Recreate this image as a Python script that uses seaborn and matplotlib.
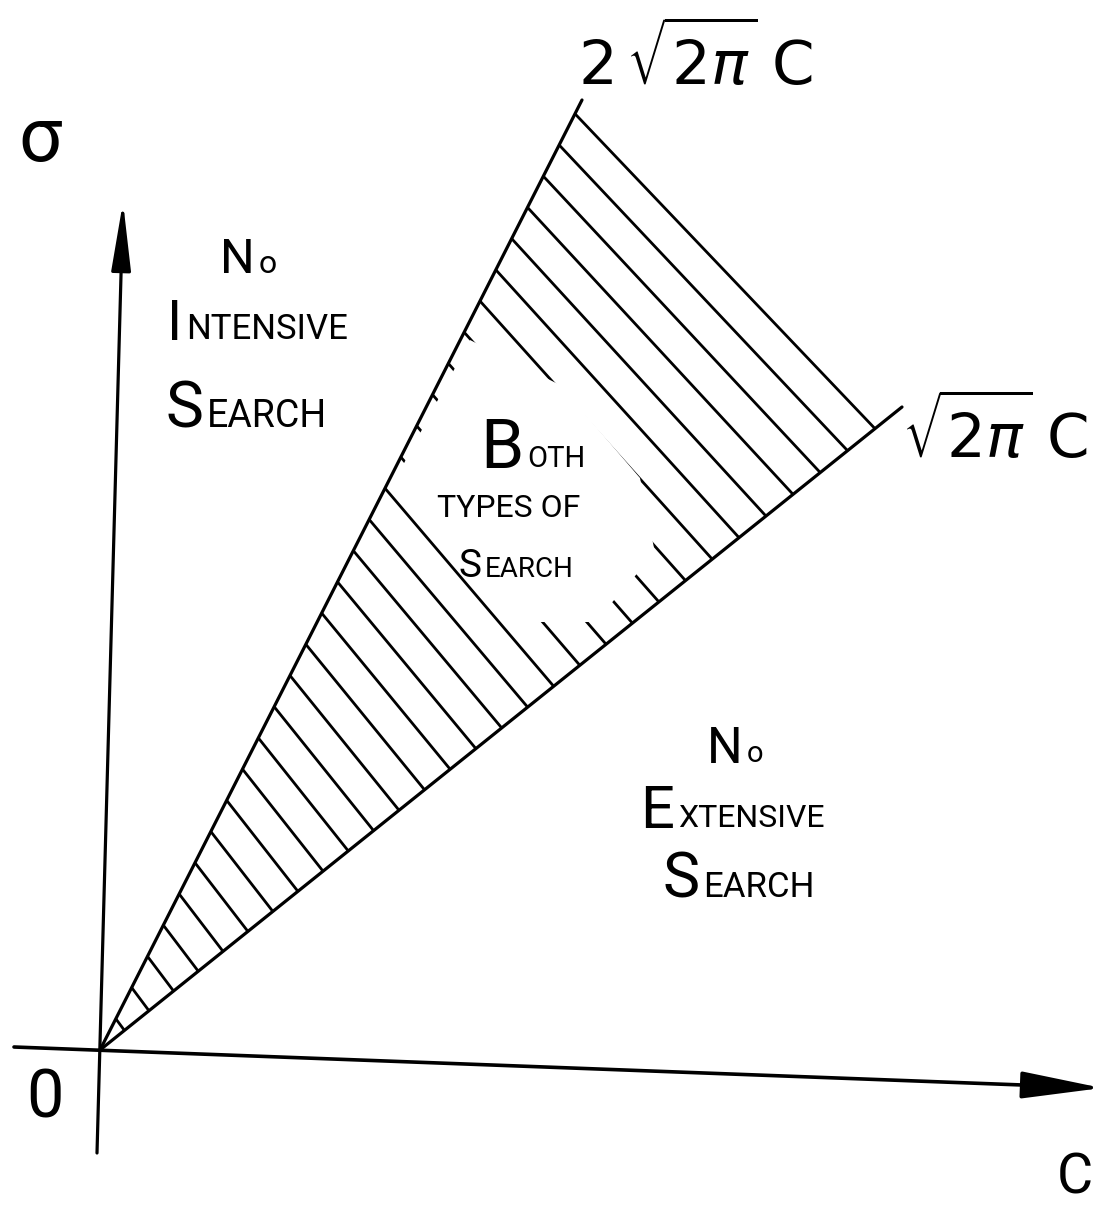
import numpy as np
import pandas as pd
import seaborn as sns
import matplotlib.pyplot as plt
from matplotlib.collections import LineCollection
from matplotlib.patches import Polygon

# boundary rays sigma = k * c, drawn out from the origin
ray_names = ['upper', 'lower']
ray_end_c = [4.82, 8.02]
ray_end_sigma = [9.50, 6.43]
ray_labels = [r'$2\,\sqrt{2\pi}\;\mathrm{C}$', r'$\sqrt{2\pi}\;\mathrm{C}$']

# hatched band: stops on the upper ray at band_top_c, closing line hits the lower ray at band_end_c
band_top_c = 4.75
band_end_c = 7.75
n_hatch = 30

# region captions, (big initial, small caps rest) per line
no_intensive = [('N', 'o'), ('I', 'NTENSIVE'), ('S', 'EARCH')]
both_types = [('B', 'OTH'), ('', 'TYPES OF'), ('S', 'EARCH')]
no_extensive = [('N', 'o'), ('E', 'XTENSIVE'), ('S', 'EARCH')]

axis_names = ['C', 'σ', '0']


def at(px, py):
    # canvas pixel -> data coords (origin sits at pixel 100, 1050)
    return px / 100 - 1.0, (1050 - py) / 100


sns.set_theme(style='white')
plt.rcParams['font.family'] = ['Roboto', 'DejaVu Sans']
plt.rcParams['text.color'] = 'black'
font = dict(fontweight='normal', color='black')

fig = plt.figure(figsize=(11.04, 12.09), dpi=100, facecolor='white')
ax = fig.add_axes([0, 0, 1, 1])
ax.set_xlim(-1.0, 10.04)
ax.set_ylim(-1.59, 10.50)
ax.axis('off')

# rays
rays = pd.DataFrame({'ray': np.repeat(ray_names, 2),
                     'c': [v for e in ray_end_c for v in (0.0, e)],
                     'sigma': [v for e in ray_end_sigma for v in (0.0, e)]})
sns.lineplot(data=rays, x='c', y='sigma', units='ray', estimator=None, sort=False,
             color='black', lw=2.3, legend=False, ax=ax, zorder=4)

# hatching between the rays
m_up = ray_end_sigma[0] / ray_end_c[0]
m_lo = ray_end_sigma[1] / ray_end_c[1]
far_slope = (m_up * band_top_c - m_lo * band_end_c) / (band_end_c - band_top_c)
starts = band_top_c * np.arange(1, n_hatch + 1) / n_hatch
slopes = np.linspace(1.35, far_slope, n_hatch)
ends = (m_up + slopes) * starts / (m_lo + slopes)
segs = [[(s, m_up * s), (e, m_lo * e)] for s, e in zip(starts, ends)]
ax.add_collection(LineCollection(segs, colors='black', linewidths=2.0, zorder=2))

# blank patch behind "both types of search"
clear = [at(395, 480), at(470, 340), at(560, 385), at(640, 478),
         at(655, 553), at(595, 622), at(510, 622)]
ax.add_patch(Polygon(clear, closed=True, facecolor='white', edgecolor='none', zorder=3))

# axes with arrows
ax.annotate('', xy=at(1102, 1088), xytext=at(14, 1047),
            arrowprops=dict(arrowstyle='-|>,head_length=2.5,head_width=0.42', lw=2.6,
                            color='black', shrinkA=0, shrinkB=0, mutation_scale=20), zorder=4)
ax.annotate('', xy=at(123, 202), xytext=at(97, 1153),
            arrowprops=dict(arrowstyle='-|>,head_length=2.1,head_width=0.3', lw=2.3,
                            color='black', shrinkA=0, shrinkB=0, mutation_scale=20), zorder=4)


def caption(lines, spots, sizes):
    for (first, rest), (px, py), (big, small) in zip(lines, spots, sizes):
        x, y = at(px, py)
        if not first:
            ax.text(x, y, rest, fontsize=small, ha='left', va='baseline', zorder=5, **font)
            continue
        t = ax.text(x, y, first, fontsize=big, ha='left', va='baseline', zorder=5, **font)
        ax.annotate(rest, xy=(1, 0), xycoords=t, xytext=(3, 0.21 * big),
                    textcoords='offset points', fontsize=small, ha='left',
                    va='baseline', zorder=5, **font)


caption(no_intensive, [(220, 273), (167, 340), (165, 427)],
        [(35, 23), (40, 25), (46, 27)])
caption(both_types, [(480, 468), (437, 517), (458, 577)],
        [(50, 21), (0, 23), (28, 20)])
caption(no_extensive, [(707, 763), (640, 828), (662, 897)],
        [(36, 21), (43, 23), (45, 25)])

# ray labels
ax.text(*at(695, 85), ray_labels[0], fontsize=44, ha='center', va='baseline',
        color='black', zorder=5)
ax.text(*at(995, 458), ray_labels[1], fontsize=44, ha='center', va='baseline',
        color='black', zorder=5)

# axis names
ax.text(*at(1075, 1178), axis_names[0], fontsize=40, ha='center', va='center', **font)
ax.text(*at(40, 140), axis_names[1], fontsize=55, ha='center', va='center', **font)
ax.text(*at(45, 1100), axis_names[2], fontsize=48, ha='center', va='center', **font)

fig.savefig('out.png', dpi=100, facecolor='white')
